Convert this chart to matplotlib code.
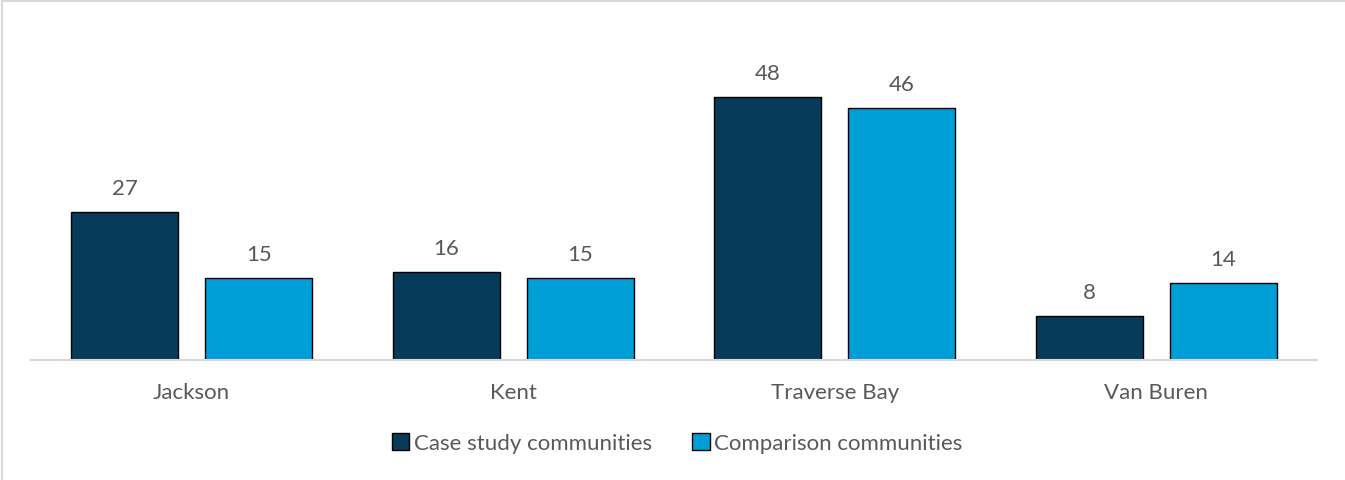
import matplotlib
matplotlib.use('agg')
import matplotlib.pyplot as plt
import numpy as np
from matplotlib.lines import Line2D

# data
categories = ['Jackson', 'Kent', 'Traverse Bay', 'Van Buren']
case_study = [27, 16, 48, 8]
comparison = [15, 15, 46, 14]
series_names = ['Case study communities', 'Comparison communities']
colors = ['#073B5A', '#009ED6']

plt.rcParams['font.family'] = ['Lato', 'DejaVu Sans']
text_color = '#595959'

fig = plt.figure(figsize=(13.45, 4.81), dpi=100)
ax = fig.add_axes([31 / 1345, 1 - 361 / 481, 1286 / 1345, 329 / 481])

x = np.arange(len(categories))
w = 0.333
off = 0.209
b1 = ax.bar(x - off, case_study, w, color=colors[0], edgecolor='black', linewidth=1, label=series_names[0])
b2 = ax.bar(x + off, comparison, w, color=colors[1], edgecolor='black', linewidth=1, label=series_names[1])

for bars in (b1, b2):
    ax.bar_label(bars, padding=10, fontsize=16, color=text_color)

ax.set_xlim(-0.5, len(categories) - 0.5)
ax.set_ylim(0, 60)
ax.set_yticks([])
ax.set_xticks(x)
ax.set_xticklabels(categories, fontsize=16, color=text_color)
ax.tick_params(axis='x', length=0, pad=16)
for s in ['left', 'right', 'top']:
    ax.spines[s].set_visible(False)
ax.spines['bottom'].set_color('#D9D9D9')
ax.spines['bottom'].set_linewidth(1.5)

leg = fig.legend(loc='center', bbox_to_anchor=(677 / 1345, 1 - 444 / 481), ncol=2, frameon=False,
                 fontsize=16, handlelength=0.8, handleheight=0.8, handletextpad=0.2, columnspacing=1.8)
for t in leg.get_texts():
    t.set_color(text_color)

# thin frame on left and top edges
fig.add_artist(Line2D([2 / 1345, 2 / 1345], [0, 1 - 2 / 481], color='#D9D9D9', linewidth=1.5, transform=fig.transFigure))
fig.add_artist(Line2D([2 / 1345, 1], [1 - 2 / 481, 1 - 2 / 481], color='#D9D9D9', linewidth=1.5, transform=fig.transFigure))

plt.savefig('out.png', dpi=100)
